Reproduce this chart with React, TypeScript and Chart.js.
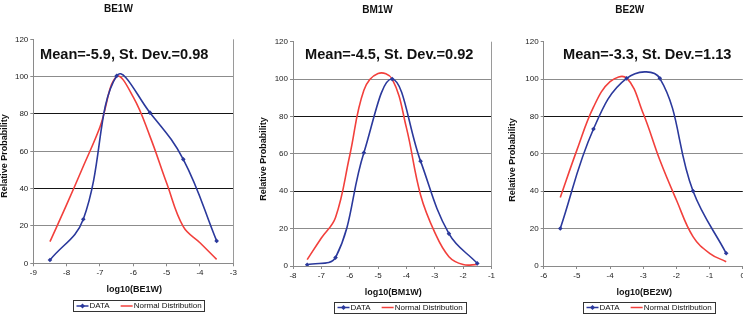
import React, { useEffect, useRef } from 'react';
import { Chart, registerables } from 'chart.js';

Chart.register(...registerables);

const FONT = '"Liberation Sans", Arial, Helvetica, sans-serif';
const BLUE = '#2b399c';
const RED = '#f2403c';

// ---------- Data ----------
// Panel 1: BE1W
const be1wTitle = 'BE1W';
const be1wAxisTitle = 'log10(BE1W)';
const be1wNote = 'Mean=-5.9, St. Dev.=0.98';
const be1wDataX = [-8.5, -7.5, -6.5, -5.5, -4.5, -3.5];
const be1wDataY = [1.8, 23.6, 100.4, 80.7, 55.7, 12];
const be1wNormX = [-8.5, -8, -7.5, -7, -6.5, -6, -5.5, -5, -4.5, -4, -3.5];
const be1wNormY = [11.6, 31.4, 52, 73, 100, 89, 68, 43, 19.6, 11, 2.1];
const be1wXRange = [-9, -3];

// Panel 2: BM1W
const bm1wTitle = 'BM1W';
const bm1wAxisTitle = 'log10(BM1W)';
const bm1wNote = 'Mean=-4.5, St. Dev.=0.92';
const bm1wDataX = [-7.5, -6.5, -5.5, -4.5, -3.5, -2.5, -1.5];
const bm1wDataY = [0.7, 4.5, 60.6, 100, 56.1, 17.3, 1.4];
const bm1wNormX = [-7.5, -7, -6.5, -6, -5.5, -5, -4.5, -4, -3.5, -3, -2.5, -2, -1.5];
const bm1wNormY = [3.4, 15, 26, 59, 94, 103, 100, 74, 38, 18, 5, 0.8, 0.8];
const bm1wXRange = [-8, -1];

// Panel 3: BE2W
const be2wTitle = 'BE2W';
const be2wAxisTitle = 'log10(BE2W)';
const be2wNote = 'Mean=-3.3, St. Dev.=1.13';
const be2wDataX = [-5.5, -4.5, -3.5, -2.5, -1.5, -0.5];
const be2wDataY = [20.1, 73.3, 100.4, 100.4, 40.1, 6.8];
const be2wNormX = [-5.5, -5, -4.5, -4, -3.5, -3, -2.5, -2, -1.5, -1, -0.5];
const be2wNormY = [36.7, 62, 85, 98.6, 100.5, 81.6, 56.7, 35.3, 15.7, 6.8, 2.3];
const be2wXRange = [-6, 0];

const yTitle = 'Relative Probability';
const legendLabels = ['DATA', 'Normal Distribution'];
const yRange = [0, 120];
const yStep = 20;

// ---------- Layout (page coordinates) ----------
type Layout = {
  canvasLeft: number; canvasWidth: number;
  plotLeft: number; plotRight: number; plotTop: number; plotBottom: number;
  titleX: number; titleY: number;
  yTitleX: number; yTitleY: number;
  xTitleX: number; xTitleY: number;
  noteX: number; noteY: number;
  legendLeft: number; legendRight: number; legendTop: number; legendBottom: number;
  rightBorder: boolean;
};

const layouts: Layout[] = [
  {
    canvasLeft: 0, canvasWidth: 245,
    plotLeft: 33.3, plotRight: 233.3, plotTop: 39.3, plotBottom: 263.3,
    titleX: 118.4, titleY: 9.3, yTitleX: 5, yTitleY: 156, xTitleX: 134.2, xTitleY: 290,
    noteX: 40, noteY: 54.5,
    legendLeft: 72.5, legendRight: 203.5, legendTop: 300, legendBottom: 311,
    rightBorder: true,
  },
  {
    canvasLeft: 245, canvasWidth: 252,
    plotLeft: 293, plotRight: 495, plotTop: 41.7, plotBottom: 266,
    titleX: 377.5, titleY: 10, yTitleX: 263.3, yTitleY: 159, xTitleX: 393.3, xTitleY: 292.7,
    noteX: 305, noteY: 54.5,
    legendLeft: 333.5, legendRight: 465, legendTop: 301.5, legendBottom: 312.5,
    rightBorder: true,
  },
  {
    canvasLeft: 497, canvasWidth: 250,
    plotLeft: 543.7, plotRight: 743.7, plotTop: 41.7, plotBottom: 266,
    titleX: 629.7, titleY: 10, yTitleX: 513, yTitleY: 160, xTitleX: 644.2, xTitleY: 292.7,
    noteX: 563, noteY: 54.5,
    legendLeft: 582.5, legendRight: 714.5, legendTop: 301.5, legendBottom: 312.5,
    rightBorder: false,
  },
];

type PanelData = {
  title: string; axisTitle: string; note: string;
  dataX: number[]; dataY: number[]; normX: number[]; normY: number[];
  xRange: number[];
};

const panels: PanelData[] = [
  { title: be1wTitle, axisTitle: be1wAxisTitle, note: be1wNote, dataX: be1wDataX, dataY: be1wDataY, normX: be1wNormX, normY: be1wNormY, xRange: be1wXRange },
  { title: bm1wTitle, axisTitle: bm1wAxisTitle, note: bm1wNote, dataX: bm1wDataX, dataY: bm1wDataY, normX: bm1wNormX, normY: bm1wNormY, xRange: bm1wXRange },
  { title: be2wTitle, axisTitle: be2wAxisTitle, note: be2wNote, dataX: be2wDataX, dataY: be2wDataY, normX: be2wNormX, normY: be2wNormY, xRange: be2wXRange },
];

const H = 318;
const X_AXIS_H = 30;

function Panel({ data, layout }: { data: PanelData; layout: Layout }) {
  const ref = useRef<HTMLCanvasElement | null>(null);

  useEffect(() => {
    if (!ref.current) return;
    const L = layout;
    const off = L.canvasLeft;
    const plotLeft = L.plotLeft - off;
    const plotRight = L.plotRight - off;

    const decor = {
      id: 'decor',
      afterDraw(chart: any) {
        const ctx = chart.ctx as CanvasRenderingContext2D;
        const ca = chart.chartArea;
        ctx.save();
        if (L.rightBorder) {
          ctx.strokeStyle = '#9a9a9a';
          ctx.lineWidth = 1;
          ctx.beginPath();
          ctx.moveTo(Math.round(ca.right) + 0.5, ca.top);
          ctx.lineTo(Math.round(ca.right) + 0.5, ca.bottom);
          ctx.stroke();
        }
        ctx.fillStyle = '#111';
        ctx.textBaseline = 'middle';
        ctx.font = `bold 10px ${FONT}`;
        ctx.textAlign = 'center';
        ctx.fillText(data.title, L.titleX - off, L.titleY);
        ctx.font = `bold 9px ${FONT}`;
        ctx.fillText(data.axisTitle, L.xTitleX - off, L.xTitleY);
        ctx.save();
        ctx.translate(L.yTitleX - off, L.yTitleY);
        ctx.rotate(-Math.PI / 2);
        ctx.fillText(yTitle, 0, 0);
        ctx.restore();
        ctx.font = `bold 14.6px ${FONT}`;
        ctx.textAlign = 'left';
        ctx.fillText(data.note, L.noteX - off, L.noteY);
        // legend
        const lx = L.legendLeft - off;
        const lw = L.legendRight - L.legendLeft;
        const lt = L.legendTop;
        const lh = L.legendBottom - L.legendTop;
        ctx.strokeStyle = '#333';
        ctx.lineWidth = 1;
        ctx.strokeRect(Math.round(lx) + 0.5, Math.round(lt) + 0.5, Math.round(lw), Math.round(lh));
        const cy = lt + lh / 2 + 0.5;
        ctx.font = `8px ${FONT}`;
        let x = lx + 4;
        ctx.strokeStyle = BLUE;
        ctx.lineWidth = 1.5;
        ctx.beginPath();
        ctx.moveTo(x, cy);
        ctx.lineTo(x + 12, cy);
        ctx.stroke();
        ctx.fillStyle = BLUE;
        ctx.beginPath();
        ctx.moveTo(x + 6, cy - 2.5);
        ctx.lineTo(x + 8.5, cy);
        ctx.lineTo(x + 6, cy + 2.5);
        ctx.lineTo(x + 3.5, cy);
        ctx.closePath();
        ctx.fill();
        ctx.fillStyle = '#111';
        x += 13;
        ctx.fillText(legendLabels[0], x, cy);
        x += ctx.measureText(legendLabels[0]).width + 11;
        ctx.strokeStyle = RED;
        ctx.beginPath();
        ctx.moveTo(x, cy);
        ctx.lineTo(x + 12, cy);
        ctx.stroke();
        x += 13;
        ctx.fillText(legendLabels[1], x, cy);
        ctx.restore();
      },
    };

    const chart = new Chart(ref.current, {
      type: 'scatter',
      data: {
        datasets: [
          {
            label: legendLabels[1],
            data: data.normX.map((x, i) => ({ x, y: data.normY[i] })),
            showLine: true,
            borderColor: RED,
            backgroundColor: RED,
            borderWidth: 1.6,
            pointRadius: 0,
            tension: 0.4,
            order: 2,
          },
          {
            label: legendLabels[0],
            data: data.dataX.map((x, i) => ({ x, y: data.dataY[i] })),
            showLine: true,
            borderColor: BLUE,
            backgroundColor: BLUE,
            borderWidth: 1.6,
            pointStyle: 'rectRot',
            pointRadius: 2.3,
            pointBorderWidth: 0,
            tension: 0.4,
            order: 1,
          },
        ],
      },
      options: {
        animation: false,
        responsive: false,
        maintainAspectRatio: false,
        devicePixelRatio: 1,
        layout: {
          padding: {
            left: 0,
            right: L.canvasWidth - plotRight,
            top: L.plotTop,
            bottom: H - L.plotBottom - X_AXIS_H,
          },
        },
        plugins: {
          legend: { display: false },
          title: { display: false },
          tooltip: { enabled: false },
        },
        scales: {
          x: {
            type: 'linear',
            min: data.xRange[0],
            max: data.xRange[1],
            afterFit: (s: any) => { s.height = X_AXIS_H; },
            ticks: {
              stepSize: 1,
              padding: 2,
              color: '#222',
              font: { family: FONT, size: 8 },
              maxRotation: 0,
              autoSkip: false,
            },
            grid: {
              drawOnChartArea: false,
              drawTicks: true,
              tickLength: 3,
              tickColor: '#8a8a8a',
            },
            border: { color: '#8a8a8a', width: 1 },
          },
          y: {
            type: 'linear',
            min: yRange[0],
            max: yRange[1],
            afterFit: (s: any) => { s.width = plotLeft; },
            ticks: {
              stepSize: yStep,
              padding: 2,
              color: '#222',
              font: { family: FONT, size: 8 },
            },
            grid: {
              color: (c: any) => {
                const v = c.tick ? c.tick.value : -1;
                if (v === 0 || v === 120) return 'rgba(0,0,0,0)';
                if (v === 40 || v === 80) return '#151515';
                return '#8c8c8c';
              },
              lineWidth: 1,
              drawTicks: true,
              tickLength: 3,
              tickColor: '#8a8a8a',
            },
            border: { color: '#8a8a8a', width: 1 },
          },
        },
      },
      plugins: [decor],
    });
    return () => chart.destroy();
  }, [data, layout]);

  return (
    <canvas
      ref={ref}
      width={layout.canvasWidth}
      height={H}
      style={{
        position: 'absolute',
        left: layout.canvasLeft,
        top: 0,
        width: layout.canvasWidth,
        height: H,
      }}
    />
  );
}

export default function App() {
  return (
    <div
      style={{
        position: 'fixed',
        left: 0,
        top: 0,
        width: 743,
        height: 318,
        overflow: 'hidden',
        background: '#fff',
      }}
    >
      {panels.map((p, i) => (
        <Panel key={i} data={p} layout={layouts[i]} />
      ))}
    </div>
  );
}
